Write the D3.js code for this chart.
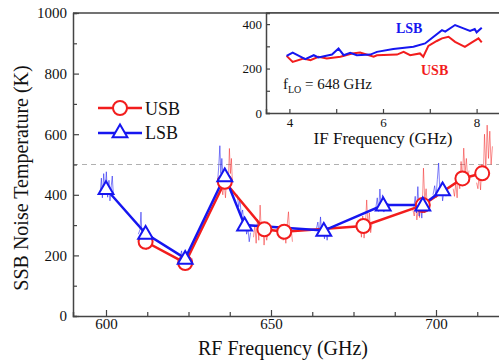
<!DOCTYPE html>
<html>
<head>
<meta charset="utf-8">
<script src="https://cdn.jsdelivr.net/npm/d3@7/dist/d3.min.js"></script>
<style>
  html, body { margin: 0; padding: 0; background: #fff; }
</style>
</head>
<body>
<svg id="chart" width="499" height="364"></svg>
<script>
// main plot: RF frequency (GHz) vs SSB noise temperature (K)
const usbPoints = [[612, 245], [624, 175], [636, 443], [648, 286], [654, 278], [678, 297], [696, 366], [708, 454], [714, 471]]
const lsbPoints = [[600, 420], [612, 272], [624, 190], [636, 462], [642, 300], [666, 282], [684, 366], [696, 366], [702, 416]]

// thin traces measured across the IF band around each LO point
const usbTraces = [
  [[609.8,250],[610.3,232],[610.8,262],[611.2,228],[611.7,255],[612.2,218],[612.7,248],[613.2,230],[613.7,252],[614.1,240]],
  [[622.2,180],[622.7,160],[623.1,190],[623.6,152],[624.1,176],[624.6,158],[625.1,185],[625.6,165],[626,178]],
  [[635,430],[635.4,400],[635.8,445],[636.2,390],[636.6,460],[637,420],[637.4,553],[637.7,470],[638,520],[638.3,440]],
  [[644.7,260],[645.1,300],[645.5,240],[645.9,320],[646.3,250],[646.7,366],[647.1,270],[647.5,300],[647.9,234],[648.3,285],[648.7,250],[649.1,275]],
  [[652.9,270],[653.3,300],[653.7,250],[654.1,280],[654.5,240],[654.9,300],[655.3,344],[655.7,260],[656.1,290],[656.5,245]],
  [[676.6,280],[677,310],[677.4,260],[677.8,330],[678.2,257],[678.6,300],[679,383],[679.4,290],[679.8,340],[680.2,275],[680.6,305]],
  [[693,350],[693.4,330],[693.8,365],[694.2,317],[694.6,355],[695,325],[695.4,370],[695.8,340],[696.2,488],[696.6,380],[697,420],[697.4,360]],
  [[705.2,420],[705.6,395],[706,440],[706.4,390],[706.8,470],[707.2,420],[707.6,510],[708,445],[708.4,554],[708.8,470],[709.2,520],[709.6,450],[710,480]],
  [[712.3,440],[712.7,420],[713.1,470],[713.5,416],[713.9,500],[714.3,450],[714.7,600],[715.1,480],[715.5,630],[715.9,520],[716.3,610],[716.7,500],[717.1,560]]
]
const lsbTraces = [
  [[598.2,400],[598.6,455],[598.9,390],[599.3,470],[599.7,405],[600.1,476],[600.5,392],[600.9,448],[601.2,380],[601.6,430],[601.9,462],[602.2,405]],
  [[609.8,270],[610.3,285],[610.6,343],[610.9,262],[611.4,290],[611.9,268],[612.4,250],[612.9,280],[613.3,224],[613.6,262],[614,255]],
  [[622.5,195],[622.9,215],[623.3,180],[623.7,205],[624.1,172],[624.5,212],[624.9,185],[625.3,198],[625.7,178],[626.1,190]],
  [[633.8,440],[634.2,500],[634.5,562],[634.8,470],[635.1,520],[635.5,450],[635.9,490],[636.3,430],[636.7,470],[637.1,440]],
  [[639.8,400],[640.2,360],[640.6,385],[641,330],[641.4,350],[641.8,300],[642.2,320],[642.6,270],[643,290],[643.4,245],[643.8,275]],
  [[663.8,290],[664.2,310],[664.6,265],[665,327],[665.4,270],[665.8,295],[666.2,255],[666.6,285],[667,250],[667.4,275]],
  [[681.8,360],[682.2,390],[682.6,345],[683,419],[683.4,355],[683.8,400],[684.2,343],[684.6,380],[685,350],[685.4,372],[685.9,358]],
  [[693.3,360],[693.7,395],[694.1,340],[694.5,427],[694.9,330],[695.3,375],[695.7,323],[696.1,390],[696.5,340],[696.9,365],[697.4,345],[697.9,358]],
  [[699.1,400],[699.6,430],[700,390],[700.4,450],[700.8,505],[701.2,400],[701.6,440],[702,380],[702.5,420],[703,395]]
]

// inset: IF frequency (GHz) vs noise temperature at f_LO = 648 GHz
const insetLsb = [[3.94,257],[4.07,272],[4.34,242],[4.52,260],[4.62,250],[4.91,263],[5.05,290],[5.16,260],[5.3,271],[5.44,260],[5.73,263],[5.87,275],[6.22,288],[6.65,298],[6.9,313],[7.04,336],[7.26,373],[7.33,366],[7.54,396],[7.72,381],[7.86,369],[7.96,378],[8.0,363],[8.11,384]]
const insetUsb = [[3.94,257],[4.07,230],[4.3,245],[4.45,238],[4.62,253],[4.8,245],[5.09,253],[5.34,268],[5.51,272],[5.8,253],[5.87,260],[6.3,263],[6.44,275],[6.58,260],[6.79,268],[6.86,253],[6.97,302],[7.15,324],[7.26,336],[7.4,343],[7.54,320],[7.75,298],[7.9,318],[8.04,336],[8.11,318]]

const xTicks = [600, 650, 700]
const yTicks = [0, 200, 400, 600, 800, 1000]
const insetXTicks = [4, 6, 8]
const insetYTicks = [0, 200, 400]

const RED = '#f21d1d'
const BLUE = '#1616f0'
const AXIS = '#444'
const SERIF = 'Liberation Serif'

const svg = d3.select('#chart')

const margin = {left: 73, top: 13}
const width = 429
const height = 303

const x = d3.scaleLinear().domain([590, 720]).range([0, width])
const y = d3.scaleLinear().domain([0, 1000]).range([height, 0])

const g = svg.append('g').attr('transform', `translate(${margin.left},${margin.top})`)

// reference line at 500 K
g.append('line')
  .attr('x1', 0).attr('x2', width)
  .attr('y1', y(500)).attr('y2', y(500))
  .attr('stroke', '#b0b0b0').attr('stroke-width', 1).attr('stroke-dasharray', '5,4')

const traceLine = d3.line().x(d => x(d[0])).y(d => y(d[1]))

g.selectAll('.usb-trace').data(usbTraces).enter().append('path')
  .attr('class', 'usb-trace')
  .attr('d', traceLine)
  .attr('fill', 'none').attr('stroke', RED).attr('stroke-opacity', 0.55).attr('stroke-width', 0.9)

g.selectAll('.lsb-trace').data(lsbTraces).enter().append('path')
  .attr('class', 'lsb-trace')
  .attr('d', traceLine)
  .attr('fill', 'none').attr('stroke', BLUE).attr('stroke-opacity', 0.6).attr('stroke-width', 0.9)

// series lines
g.append('path').datum(usbPoints)
  .attr('d', traceLine).attr('fill', 'none').attr('stroke', RED).attr('stroke-width', 2.5)
g.append('path').datum(lsbPoints)
  .attr('d', traceLine).attr('fill', 'none').attr('stroke', BLUE).attr('stroke-width', 2.5)

const triangle = d3.symbol().type(d3.symbolTriangle).size(95)

g.selectAll('.usb-mark').data(usbPoints).enter().append('circle')
  .attr('class', 'usb-mark')
  .attr('cx', d => x(d[0])).attr('cy', d => y(d[1])).attr('r', 7)
  .attr('fill', '#fff').attr('stroke', RED).attr('stroke-width', 2)

g.selectAll('.lsb-mark').data(lsbPoints).enter().append('path')
  .attr('class', 'lsb-mark')
  .attr('transform', d => `translate(${x(d[0])},${y(d[1]) + 1})`)
  .attr('d', triangle)
  .attr('fill', '#fff').attr('stroke', BLUE).attr('stroke-width', 2)

// axes: inward ticks
const xAxis = g.append('g').attr('transform', `translate(0,${height})`)
  .call(d3.axisBottom(x).tickValues(d3.range(600, 720, 12.5)).tickSize(-4).tickFormat(d => xTicks.includes(d) ? d : ''))
const yAxis = g.append('g')
  .call(d3.axisLeft(y).tickValues(d3.range(0, 1001, 100)).tickSize(-4).tickFormat(d => yTicks.includes(d) ? d : ''))

xAxis.selectAll('text').attr('dy', '0.2em').attr('y', 10).attr('font-size', 15)
yAxis.selectAll('text').attr('x', -6).attr('font-size', 15)
yAxis.selectAll('.tick line').filter(d => yTicks.includes(d)).attr('x2', 6)
xAxis.selectAll('.tick line').filter(d => xTicks.includes(d)).attr('y2', -6)
for (const ax of [xAxis, yAxis]) {
  ax.attr('font-family', SERIF).attr('font-size', 15)
  ax.selectAll('text').attr('fill', '#111')
  ax.select('.domain').attr('stroke', AXIS).attr('stroke-width', 1.5)
  ax.selectAll('.tick line').attr('stroke', AXIS).attr('stroke-width', 1.2)
}

// top frame line
g.append('line').attr('x1', 0).attr('x2', width).attr('y1', 0).attr('y2', 0)
  .attr('stroke', AXIS).attr('stroke-width', 1.5)

svg.append('text')
  .attr('x', 283).attr('y', 355)
  .attr('text-anchor', 'middle').attr('font-size', 20).attr('font-family', SERIF).attr('fill', '#111')
  .text('RF Frequency (GHz)')

svg.append('text')
  .attr('transform', 'translate(28,178) rotate(-90)')
  .attr('text-anchor', 'middle').attr('font-size', 20).attr('font-family', SERIF).attr('fill', '#111')
  .text('SSB Noise Temperature (K)')

// legend
const legend = svg.append('g').attr('transform', 'translate(98,108)')
legend.append('line').attr('x1', 0).attr('x2', 44).attr('y1', 0).attr('y2', 0).attr('stroke', RED).attr('stroke-width', 2.5)
legend.append('circle').attr('cx', 22).attr('cy', 0).attr('r', 7).attr('fill', '#fff').attr('stroke', RED).attr('stroke-width', 2)
legend.append('text').attr('x', 47).attr('y', 7).attr('font-size', 18).attr('font-family', SERIF).attr('fill', '#111').text('USB')
legend.append('line').attr('x1', 0).attr('x2', 44).attr('y1', 25).attr('y2', 25).attr('stroke', BLUE).attr('stroke-width', 2.5)
legend.append('path').attr('transform', 'translate(22,25)').attr('d', triangle).attr('fill', '#fff').attr('stroke', BLUE).attr('stroke-width', 2)
legend.append('text').attr('x', 47).attr('y', 31).attr('font-size', 18).attr('font-family', SERIF).attr('fill', '#111').text('LSB')

// inset
const inset = {left: 266, top: 13, width: 234, height: 100}
const ix = d3.scaleLinear().domain([3.5, 8.5]).range([0, inset.width])
const iy = d3.scaleLinear().domain([0, 450]).range([inset.height, 0])
const ig = svg.append('g').attr('transform', `translate(${inset.left},${inset.top})`)

ig.append('rect').attr('width', inset.width).attr('height', inset.height).attr('fill', '#fff')

const insetLine = d3.line().x(d => ix(d[0])).y(d => iy(d[1]))
ig.append('path').datum(insetUsb).attr('d', insetLine).attr('fill', 'none').attr('stroke', RED).attr('stroke-width', 2)
ig.append('path').datum(insetLsb).attr('d', insetLine).attr('fill', 'none').attr('stroke', BLUE).attr('stroke-width', 2)

const ixAxis = ig.append('g').attr('transform', `translate(0,${inset.height})`)
  .call(d3.axisBottom(ix).tickValues([4, 5, 6, 7, 8]).tickSize(-4).tickFormat(d => insetXTicks.includes(d) ? d : ''))
const iyAxis = ig.append('g')
  .call(d3.axisLeft(iy).tickValues([0, 100, 200, 300, 400]).tickSize(-4).tickFormat(d => insetYTicks.includes(d) ? d : ''))
ixAxis.selectAll('text').attr('y', 5)
iyAxis.selectAll('text').attr('x', -4)
for (const ax of [ixAxis, iyAxis]) {
  ax.attr('font-family', SERIF).attr('font-size', 13)
  ax.selectAll('text').attr('fill', '#111')
  ax.select('.domain').attr('stroke', AXIS).attr('stroke-width', 1.5)
  ax.selectAll('.tick line').attr('stroke', AXIS).attr('stroke-width', 1.2)
}
ig.append('line').attr('x1', 0).attr('x2', inset.width).attr('y1', 0).attr('y2', 0)
  .attr('stroke', AXIS).attr('stroke-width', 1.5)

svg.append('text').attr('x', 383).attr('y', 144)
  .attr('text-anchor', 'middle').attr('font-size', 17).attr('font-family', SERIF).attr('fill', '#111')
  .text('IF Frequency (GHz)')

svg.append('text').attr('x', 396).attr('y', 33)
  .attr('font-size', 14).attr('font-weight', 'bold').attr('font-family', SERIF).attr('fill', BLUE).text('LSB')
svg.append('text').attr('x', 421).attr('y', 75)
  .attr('font-size', 14).attr('font-weight', 'bold').attr('font-family', SERIF).attr('fill', RED).text('USB')

const flo = svg.append('text').attr('x', 283).attr('y', 89).attr('font-size', 15).attr('font-family', SERIF).attr('fill', '#111')
flo.append('tspan').text('f')
flo.append('tspan').attr('dy', 4).attr('font-size', 10).text('LO')
flo.append('tspan').attr('dy', -4).text(' = 648 GHz')
</script>
</body>
</html>
